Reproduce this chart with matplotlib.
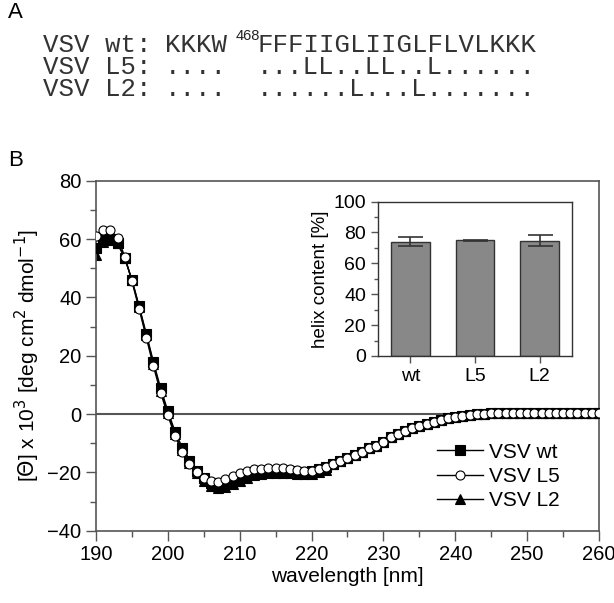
import numpy as np
import matplotlib
matplotlib.use("Agg")
import matplotlib.pyplot as plt
from matplotlib.ticker import MultipleLocator

wavelength = np.arange(190, 261, 1)

tail = [-0.6, -0.3, -0.1, 0.1, 0.2, 0.3, 0.3, 0.3, 0.3, 0.3, 0.3, 0.3, 0.3, 0.3, 0.3, 0.3, 0.3, 0.3, 0.3, 0.3]
rise = [-17.3, -16.1, -15.0, -13.9, -12.9, -11.8, -10.8, -9.5, -8.0, -6.8, -5.7, -4.8, -4.0, -3.3, -2.6, -2.0, -1.5, -1.0]

vsv_wt = [57.0, 59.5, 60.0, 58.5, 53.5, 46.0, 37.0, 27.5, 17.8, 8.8, 1.0,
          -6.0, -11.5, -16.0, -19.5, -22.0, -23.5, -24.2, -23.8, -22.8, -21.6,
          -20.8, -20.2, -19.8, -19.5, -19.4, -19.4, -19.6, -19.9, -20.0, -19.5,
          -19.0, -18.3] + rise + tail
vsv_l5 = [61.0, 63.0, 63.0, 60.5, 54.0, 45.5, 36.0, 26.2, 16.3, 7.3, -0.5,
          -7.5, -13.0, -17.0, -20.0, -22.0, -23.0, -23.2, -22.4, -21.3, -20.2,
          -19.5, -19.0, -18.7, -18.5, -18.5, -18.6, -18.9, -19.2, -19.5, -19.4,
          -19.0, -18.3] + rise + tail
vsv_l2 = [54.5, 59.0, 59.5, 58.5, 53.5, 46.0, 36.8, 27.0, 17.2, 8.0, 0.3,
          -6.8, -12.3, -16.8, -20.3, -23.0, -24.6, -25.3, -25.0, -24.0, -22.8,
          -21.8, -21.0, -20.6, -20.3, -20.2, -20.2, -20.3, -20.5, -20.6, -20.4,
          -19.9, -19.1] + rise + tail

bar_labels = ["wt", "L5", "L2"]
helix = [74.0, 74.9, 74.5]
helix_err = [3.0, 0.3, 3.5]

seq_names = ["VSV wt:", "VSV L5:", "VSV L2:"]
seq_head = ["KKKW", "....", "...."]
seq_tail = ["FFFIIGLIIGLFLVLKKK", "...LL..LL..L......", "......L...L......."]

plt.rcParams['font.family'] = ['Liberation Sans', 'DejaVu Sans']
fig = plt.figure(figsize=(6.14, 6.03), dpi=100)

spine_c = '#555555'
seq_c = '#333333'

# Panel A text
fig.text(8/614, 1 - 13/603, "A", fontsize=16, va='center', ha='left')
ys = [45, 67, 89]
for i in range(3):
    y = 1 - ys[i]/603
    fig.text(43/614, y, seq_names[i], family='Liberation Mono',
             fontsize=18.5, va='center', ha='left', color=seq_c)
    fig.text(165/614, y, seq_head[i], family='Liberation Mono',
             fontsize=18.5, va='center', ha='left', color=seq_c)
    fig.text(257/614, y, seq_tail[i], family='Liberation Mono',
             fontsize=18.5, va='center', ha='left', color=seq_c)
fig.text(236/614, 1 - 36/603, "468", fontsize=10.5, va='center', ha='left', color='#222222')
fig.text(8/614, 1 - 160/603, "B", fontsize=16, va='center', ha='left')

# Main axes
ax = fig.add_axes([96/614, 1 - 530.7/603, (599 - 96)/614, (530.7 - 180.7)/603])
ax.axhline(0, color='#555555', lw=1.5, zorder=1)
mk = dict(lw=1.0, color='black', markersize=6.5, markeredgecolor='black', markeredgewidth=0.8)
ax.plot(wavelength, vsv_wt, marker='s', markerfacecolor='black', label='VSV wt', zorder=3, **mk)
ax.plot(wavelength, vsv_l5, marker='o', markerfacecolor='white', label='VSV L5', zorder=4, **mk)
ax.plot(wavelength, vsv_l2, marker='^', markerfacecolor='black', label='VSV L2', zorder=2, **mk)
ax.set_xlim(190, 260)
ax.set_ylim(-40, 80)
ax.xaxis.set_major_locator(MultipleLocator(10))
ax.xaxis.set_minor_locator(MultipleLocator(5))
ax.yaxis.set_major_locator(MultipleLocator(20))
ax.yaxis.set_minor_locator(MultipleLocator(10))
ax.tick_params(which='major', direction='out', length=7, width=1, colors=spine_c, labelsize=14.5, labelcolor='black')
ax.tick_params(which='minor', direction='out', length=4, width=1, colors=spine_c)
for s in ax.spines.values():
    s.set_color(spine_c)
    s.set_linewidth(1.2)
ax.set_xlabel("wavelength [nm]", fontsize=15, labelpad=2)
ax.set_ylabel(r"[$\Theta$] x 10$^{3}$ [deg cm$^{2}$ dmol$^{-1}$]", fontsize=15, labelpad=4)
leg = ax.legend(loc='lower right', frameon=False, fontsize=15, handlelength=2.2,
                handletextpad=0.3, labelspacing=0.25, bbox_to_anchor=(0.96, 0.005))

# Inset
ax2 = fig.add_axes([378/614, 1 - 356/603, (572 - 378)/614, (356 - 201.5)/603])
x = np.arange(len(bar_labels))
ax2.bar(x, helix, width=0.6, color='#888888', edgecolor='#333333', linewidth=1.0,
        yerr=helix_err, capsize=9, error_kw=dict(ecolor='#333333', elinewidth=1.2, capthick=1.2))
ax2.set_xlim(-0.5, 2.5)
ax2.set_ylim(0, 100)
ax2.set_xticks(x)
ax2.set_xticklabels(bar_labels)
ax2.yaxis.set_major_locator(MultipleLocator(20))
ax2.yaxis.set_minor_locator(MultipleLocator(10))
ax2.tick_params(which='major', direction='out', length=5, width=1, colors=spine_c, labelsize=14, labelcolor='black')
ax2.tick_params(which='minor', direction='out', length=3, width=1, colors=spine_c)
for s in ax2.spines.values():
    s.set_color('#333333')
    s.set_linewidth(1.0)
ax2.set_ylabel("helix content [%]", fontsize=13.5, labelpad=3)

fig.savefig("out.png", dpi=100)
